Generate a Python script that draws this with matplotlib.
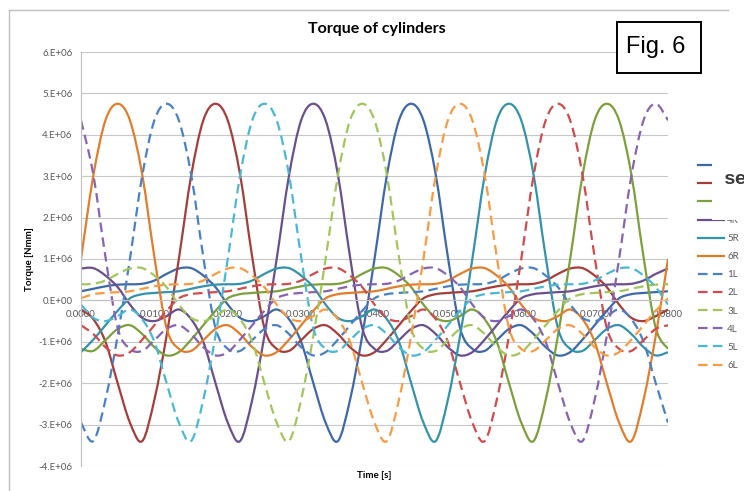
import numpy as np
import matplotlib
matplotlib.use('Agg')
import matplotlib.pyplot as plt
from matplotlib.path import Path
from matplotlib.patches import PathPatch, Rectangle
from matplotlib.lines import Line2D

plt.rcParams['font.family'] = ['Lato', 'DejaVu Sans']

# torque per cylinder [1E6 Nmm], one value every 1/600 s from 0 to 0.08 s
t_1R = [0.22, 0.28, 0.34, 0.38, 0.39, 0.4, 0.48, 0.64, 0.77, 0.78, 0.6, 0.32, -0.1, -0.42, -0.5, -0.38, -0.22,
        -0.45, -1.0, -2.0, -2.95, -3.4, -2.4, -0.85, 1.0, 3.0, 4.35, 4.75, 4.35, 3.05, 1.05, -0.67, -1.17, -1.22,
        -0.96, -0.69, -0.6, -0.81, -1.13, -1.33, -1.25, -0.95, -0.6, -0.25, 0.05, 0.15, 0.18, 0.2, 0.22]
t_2R = [-0.22, -0.45, -1.0, -2.0, -2.95, -3.4, -2.4, -0.85, 1.0, 3.0, 4.35, 4.75, 4.35, 3.05, 1.05, -0.67, -1.17,
        -1.22, -0.96, -0.69, -0.6, -0.81, -1.13, -1.33, -1.25, -0.95, -0.6, -0.25, 0.05, 0.15, 0.18, 0.2, 0.22,
        0.28, 0.34, 0.38, 0.39, 0.4, 0.48, 0.64, 0.77, 0.78, 0.6, 0.32, -0.1, -0.42, -0.5, -0.38, -0.22]
t_3R = [-1.17, -1.22, -0.96, -0.69, -0.6, -0.81, -1.13, -1.33, -1.25, -0.95, -0.6, -0.25, 0.05, 0.15, 0.18, 0.2,
        0.22, 0.28, 0.34, 0.38, 0.39, 0.4, 0.48, 0.64, 0.77, 0.78, 0.6, 0.32, -0.1, -0.42, -0.5, -0.38, -0.22,
        -0.45, -1.0, -2.0, -2.95, -3.4, -2.4, -0.85, 1.0, 3.0, 4.35, 4.75, 4.35, 3.05, 1.05, -0.67, -1.17]
t_4R = [0.77, 0.78, 0.6, 0.32, -0.1, -0.42, -0.5, -0.38, -0.22, -0.45, -1.0, -2.0, -2.95, -3.4, -2.4, -0.85, 1.0,
        3.0, 4.35, 4.75, 4.35, 3.05, 1.05, -0.67, -1.17, -1.22, -0.96, -0.69, -0.6, -0.81, -1.13, -1.33, -1.25,
        -0.95, -0.6, -0.25, 0.05, 0.15, 0.18, 0.2, 0.22, 0.28, 0.34, 0.38, 0.39, 0.4, 0.48, 0.64, 0.77]
t_5R = [-1.25, -0.95, -0.6, -0.25, 0.05, 0.15, 0.18, 0.2, 0.22, 0.28, 0.34, 0.38, 0.39, 0.4, 0.48, 0.64, 0.77,
        0.78, 0.6, 0.32, -0.1, -0.42, -0.5, -0.38, -0.22, -0.45, -1.0, -2.0, -2.95, -3.4, -2.4, -0.85, 1.0, 3.0,
        4.35, 4.75, 4.35, 3.05, 1.05, -0.67, -1.17, -1.22, -0.96, -0.69, -0.6, -0.81, -1.13, -1.33, -1.25]
t_6R = [1.0, 3.0, 4.35, 4.75, 4.35, 3.05, 1.05, -0.67, -1.17, -1.22, -0.96, -0.69, -0.6, -0.81, -1.13, -1.33,
        -1.25, -0.95, -0.6, -0.25, 0.05, 0.15, 0.18, 0.2, 0.22, 0.28, 0.34, 0.38, 0.39, 0.4, 0.48, 0.64, 0.77,
        0.78, 0.6, 0.32, -0.1, -0.42, -0.5, -0.38, -0.22, -0.45, -1.0, -2.0, -2.95, -3.4, -2.4, -0.85, 1.0]
t_1L = [-2.95, -3.4, -2.4, -0.85, 1.0, 3.0, 4.35, 4.75, 4.35, 3.05, 1.05, -0.67, -1.17, -1.22, -0.96, -0.69, -0.6,
        -0.81, -1.13, -1.33, -1.25, -0.95, -0.6, -0.25, 0.05, 0.15, 0.18, 0.2, 0.22, 0.28, 0.34, 0.38, 0.39, 0.4,
        0.48, 0.64, 0.77, 0.78, 0.6, 0.32, -0.1, -0.42, -0.5, -0.38, -0.22, -0.45, -1.0, -2.0, -2.95]
t_2L = [-0.6, -0.81, -1.13, -1.33, -1.25, -0.95, -0.6, -0.25, 0.05, 0.15, 0.18, 0.2, 0.22, 0.28, 0.34, 0.38, 0.39,
        0.4, 0.48, 0.64, 0.77, 0.78, 0.6, 0.32, -0.1, -0.42, -0.5, -0.38, -0.22, -0.45, -1.0, -2.0, -2.95, -3.4,
        -2.4, -0.85, 1.0, 3.0, 4.35, 4.75, 4.35, 3.05, 1.05, -0.67, -1.17, -1.22, -0.96, -0.69, -0.6]
t_3L = [0.39, 0.4, 0.48, 0.64, 0.77, 0.78, 0.6, 0.32, -0.1, -0.42, -0.5, -0.38, -0.22, -0.45, -1.0, -2.0, -2.95,
        -3.4, -2.4, -0.85, 1.0, 3.0, 4.35, 4.75, 4.35, 3.05, 1.05, -0.67, -1.17, -1.22, -0.96, -0.69, -0.6, -0.81,
        -1.13, -1.33, -1.25, -0.95, -0.6, -0.25, 0.05, 0.15, 0.18, 0.2, 0.22, 0.28, 0.34, 0.38, 0.39]
t_4L = [4.35, 3.05, 1.05, -0.67, -1.17, -1.22, -0.96, -0.69, -0.6, -0.81, -1.13, -1.33, -1.25, -0.95, -0.6, -0.25,
        0.05, 0.15, 0.18, 0.2, 0.22, 0.28, 0.34, 0.38, 0.39, 0.4, 0.48, 0.64, 0.77, 0.78, 0.6, 0.32, -0.1, -0.42,
        -0.5, -0.38, -0.22, -0.45, -1.0, -2.0, -2.95, -3.4, -2.4, -0.85, 1.0, 3.0, 4.35, 4.75, 4.35]
t_5L = [-0.1, -0.42, -0.5, -0.38, -0.22, -0.45, -1.0, -2.0, -2.95, -3.4, -2.4, -0.85, 1.0, 3.0, 4.35, 4.75, 4.35,
        3.05, 1.05, -0.67, -1.17, -1.22, -0.96, -0.69, -0.6, -0.81, -1.13, -1.33, -1.25, -0.95, -0.6, -0.25, 0.05,
        0.15, 0.18, 0.2, 0.22, 0.28, 0.34, 0.38, 0.39, 0.4, 0.48, 0.64, 0.77, 0.78, 0.6, 0.32, -0.1]
t_6L = [0.05, 0.15, 0.18, 0.2, 0.22, 0.28, 0.34, 0.38, 0.39, 0.4, 0.48, 0.64, 0.77, 0.78, 0.6, 0.32, -0.1, -0.42,
        -0.5, -0.38, -0.22, -0.45, -1.0, -2.0, -2.95, -3.4, -2.4, -0.85, 1.0, 3.0, 4.35, 4.75, 4.35, 3.05, 1.05,
        -0.67, -1.17, -1.22, -0.96, -0.69, -0.6, -0.81, -1.13, -1.33, -1.25, -0.95, -0.6, -0.25, 0.05]

series_names = ['1R', '2R', '3R', '4R', '5R', '6R', '1L', '2L', '3L', '4L', '5L', '6L']
series_values = [t_1R, t_2R, t_3R, t_4R, t_5R, t_6R, t_1L, t_2L, t_3L, t_4L, t_5L, t_6L]
time = np.linspace(0, 0.08, 49)

x_tick_values = [0.0, 0.01, 0.02, 0.03, 0.04, 0.05, 0.06, 0.07, 0.08]
x_tick_labels = ['0.0000', '0.0100', '0.0200', '0.0300', '0.0400', '0.0500', '0.0600', '0.0700', '0.0800']
y_tick_values = [-4e6, -3e6, -2e6, -1e6, 0, 1e6, 2e6, 3e6, 4e6, 5e6, 6e6]
y_tick_labels = ['-4.E+06', '-3.E+06', '-2.E+06', '-1.E+06', '0.E+00', '1.E+06', '2.E+06', '3.E+06',
                 '4.E+06', '5.E+06', '6.E+06']

colors = {'1R': '#3D69AA', '2R': '#A53D3A', '3R': '#7BA03C', '4R': '#694F8E', '5R': '#3392AC', '6R': '#E27D2C',
          '1L': '#4A80C8', '2L': '#D04B4B', '3L': '#A2C65A', '4L': '#8763B2', '5L': '#48B8D6', '6L': '#F99B41'}
dash = (0, (4.3, 2.4))
W, H = 744, 491


def smooth_path(x, y):
    # Excel style smoothed line: bezier segments through every point
    pts = np.column_stack([x, y])
    ext = np.vstack([pts[0], pts, pts[-1]])
    verts = [pts[0]]
    codes = [Path.MOVETO]
    for i in range(len(pts) - 1):
        p0, p1, p2, p3 = ext[i], ext[i + 1], ext[i + 2], ext[i + 3]
        verts += [p1 + (p2 - p0) / 6, p2 - (p3 - p1) / 6, p2]
        codes += [Path.CURVE4] * 3
    return Path(verts, codes)


fig = plt.figure(figsize=(W / 100, H / 100), dpi=100)
ax = fig.add_axes([81 / W, 1 - 466 / H, (668 - 81) / W, (466 - 52) / H])

handles = []
for name, vals in zip(series_names, series_values):
    ls = '-' if name.endswith('R') else dash
    y = np.array(vals) * 1e6
    ax.add_patch(PathPatch(smooth_path(time, y), fill=False, edgecolor=colors[name],
                           lw=1.6, linestyle=ls, zorder=2, capstyle='butt'))
    handles.append(Line2D([], [], color=colors[name], lw=1.6, linestyle=ls))

ax.set_xlim(0, 0.08)
ax.set_ylim(-4e6, 6e6)
ax.set_xticks(x_tick_values)
ax.set_xticklabels(x_tick_labels)
ax.set_yticks(y_tick_values)
ax.set_yticklabels(y_tick_labels)
ax.tick_params(axis='both', length=0, labelsize=7, labelcolor='#595959')
ax.tick_params(axis='x', pad=7)
ax.tick_params(axis='y', pad=6)
ax.grid(axis='y', color='#C8C8C8', lw=0.8)
ax.set_axisbelow(True)
for s in ['top', 'right']:
    ax.spines[s].set_visible(False)
ax.spines['bottom'].set_position(('data', 0))
ax.spines['bottom'].set_color('#BFBFBF')
ax.spines['left'].set_color('#BFBFBF')
ax.spines['bottom'].set_linewidth(0.8)
ax.spines['left'].set_linewidth(0.8)

leg = ax.legend(handles, series_names, loc='upper left', bbox_to_anchor=(697.7 / W, 1 - 161.5 / H),
                bbox_transform=fig.transFigure, frameon=False, fontsize=7, handlelength=2.74,
                handletextpad=0.3, labelspacing=0.94, borderpad=0, borderaxespad=0, labelcolor='#595959')
# the first three labels sit under the pasted patch in the reference
for txt in leg.get_texts()[:3]:
    txt.set_visible(False)

fig.text(377 / W, 1 - 29.5 / H, 'Torque of cylinders', ha='center', va='center', fontsize=11.5, weight='bold')
fig.text(29 / W, 1 - 259 / H, 'Torque [Nmm]', ha='center', va='center', rotation=90, fontsize=7, weight='bold')
fig.text(374.5 / W, 1 - 475 / H, 'Time [s]', ha='center', va='center', fontsize=7, weight='bold')

# chart area border (left and top only visible)
fig.add_artist(Line2D([9 / W, 9 / W], [1 - 10 / H, 0], color='#BFBFBF', lw=1))
fig.add_artist(Line2D([9 / W, 728 / W], [1 - 10 / H, 1 - 10 / H], color='#BFBFBF', lw=1))

# figure label box
fig.add_artist(Rectangle((617 / W, 1 - 73.3 / H), (700.5 - 617) / W, (73.3 - 22.3) / H,
                         transform=fig.transFigure, facecolor='white', edgecolor='black', lw=1.4, zorder=5))
fig.text(656 / W, 1 - 47 / H, 'Fig. 6', ha='center', va='center', fontsize=17,
         family='Liberation Sans', zorder=6)

# pasted patch covering part of the legend
fig.add_artist(Rectangle((712 / W, 1 - 219.5 / H), (W - 712) / W, (219.5 - 150) / H,
                         transform=fig.transFigure, facecolor='white', edgecolor='none', zorder=5))
fig.text(723.5 / W, 1 - 184 / H, 'se', fontsize=14, weight='bold', family='Liberation Mono',
         color='#3A3A3A', va='baseline', zorder=6)

fig.savefig('out.png', dpi=100)
